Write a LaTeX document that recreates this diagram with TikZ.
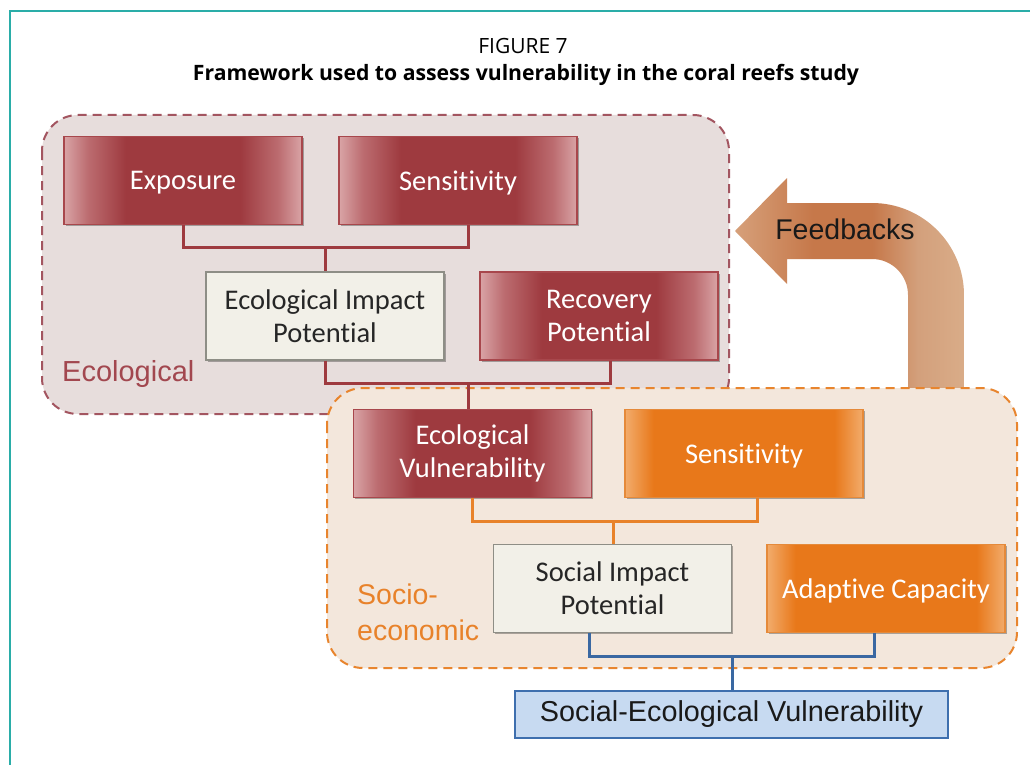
\documentclass[tikz,border=0pt]{standalone}
\usepackage{fontspec}
\setmainfont{Carlito}[Ligatures={NoCommon}]
\newfontfamily\arialf{Liberation Sans}
\newfontfamily\titlef{Open Sans}
\usetikzlibrary{shadows,calc}

\definecolor{teal}{HTML}{2AADA8}
\definecolor{ecoFill}{HTML}{E7DDDC}
\definecolor{ecoDash}{HTML}{A35560}
\definecolor{socFill}{HTML}{F3E7DC}
\definecolor{socDash}{HTML}{E8852E}
\definecolor{redD}{HTML}{9E3A3F}
\definecolor{redM}{HTML}{BC6C70}
\definecolor{redL}{HTML}{D9A4A6}
\definecolor{redB}{HTML}{A8474C}
\definecolor{orD}{HTML}{E8781A}
\definecolor{orL}{HTML}{F2AC6C}
\definecolor{orB}{HTML}{E58A3A}
\definecolor{lightFill}{HTML}{F2F0E8}
\definecolor{lightB}{HTML}{8E8E86}
\definecolor{blueFill}{HTML}{C7DAF1}
\definecolor{blueB}{HTML}{3E6FAE}
\definecolor{redLine}{HTML}{9E3A3F}
\definecolor{orLine}{HTML}{E8822A}
\definecolor{blueLine}{HTML}{3A68A2}
\definecolor{fbA}{HTML}{D6A07A}
\definecolor{fbB}{HTML}{C6784A}
\definecolor{fbC}{HTML}{D3A07C}
\definecolor{fbD}{HTML}{D9AC88}
\definecolor{ecoText}{HTML}{A2474F}
\definecolor{socText}{HTML}{E8822A}

\pgfdeclarehorizontalshading{redsh}{100bp}{color(0bp)=(redL); color(25bp)=(redL); color(30bp)=(redM); color(38bp)=(redD); color(62bp)=(redD); color(70bp)=(redM); color(75bp)=(redL); color(100bp)=(redL)}
\pgfdeclarehorizontalshading{orsh}{100bp}{color(0bp)=(orL); color(25bp)=(orL); color(31bp)=(orD); color(69bp)=(orD); color(75bp)=(orL); color(100bp)=(orL)}
\pgfdeclarehorizontalshading{fbsh}{100bp}{color(0bp)=(fbA); color(25bp)=(fbA); color(42bp)=(fbB); color(55bp)=(fbB); color(65bp)=(fbC); color(75bp)=(fbD); color(100bp)=(fbD)}

\tikzset{
  boxbase/.style={minimum width=238pt, minimum height=88pt, inner sep=0pt, align=center,
    font=\fontsize{28.5}{33}\selectfont,
    drop shadow={shadow xshift=1.5pt, shadow yshift=-1.5pt, opacity=0.3, fill=black}},
  redbox/.style={boxbase, shade, shading=redsh, draw=redB, line width=1.2pt, text=white},
  orbox/.style={boxbase, shade, shading=orsh, draw=orB, line width=1.2pt, text=white},
  lightbox/.style={boxbase, fill=lightFill, draw=lightB, line width=1.2pt, text=black!85},
  oneline/.style={text depth=0pt},
  region/.style={rounded corners=36pt, line width=2pt, dash pattern=on 9pt off 6pt},
  redline/.style={draw=redLine, line width=3pt},
  orline/.style={draw=orLine, line width=3pt},
  blueline/.style={draw=blueLine, line width=3pt},
}

\begin{document}
\begin{tikzpicture}[x=1pt, y=-1pt]
\useasboundingbox (0,0) rectangle (1030,765);
\fill[white] (0,0) rectangle (1030,765);

% frame
\draw[teal, line width=2.5pt] (10,765) -- (10,11) -- (1030,11);

% title
\node[font=\titlef\fontsize{21}{25}\selectfont] (t1) at (523,46) {FIGURE 7};
\node[font=\titlef\bfseries\fontsize{21.2}{25}\selectfont] (t2) at (526,75) {Framework used to assess vulnerability in the coral reefs study};

% ecological region
\path[region, fill=ecoFill, draw=ecoDash] (42,115) rectangle (729,414);

% feedback arrow
\path[shade, shading=fbsh] (964,392) -- (964,295) .. controls (964,244.2) and (922.8,203) .. (872,203)
  -- (787,203) -- (787,178) -- (735,231) -- (787,284) -- (787,259) -- (872,259)
  .. controls (891.9,259) and (908,275.1) .. (908,295) -- (908,392) -- cycle;
\node[font=\arialf\fontsize{28.5}{32}\selectfont, text=black!90] (fb) at (845,229) {Feedbacks};

% socio-economic region
\path[region, fill=socFill, draw=socDash] (327,388) rectangle (1017,668);

% boxes
\node[redbox, oneline] (expo) at (183,180.5) {Exposure};
\node[redbox, oneline] (sens1) at (458,180.5) {Sensitivity};
\node[lightbox] (eip) at (325,316) {Ecological Impact\\Potential};
\node[redbox] (rec) at (599,316) {Recovery\\Potential};
\node[redbox] (ev) at (472.5,453.5) {Ecological\\Vulnerability};
\node[orbox, oneline] (sens2) at (744,453.5) {Sensitivity};
\node[lightbox] (sip) at (612.5,588.5) {Social Impact\\Potential};
\node[orbox, oneline] (ac) at (886,588.5) {Adaptive Capacity};
\node[minimum width=433pt, minimum height=47pt, inner sep=0pt, fill=blueFill, draw=blueB, line width=2.5pt,
  font=\arialf\fontsize{28.8}{32}\selectfont, text=black!90] (sev) at (731.5,714.5) {Social-Ecological Vulnerability};

% connectors
\coordinate (j1) at (325,247);
\coordinate (s1) at ($(sens1.south)+(10,0)$);
\draw[redline] (expo.south) |- (j1) -| (s1);
\draw[redline] (j1) -- (eip.north);

\coordinate (j2) at (468,383);
\coordinate (r1) at ($(rec.south)+(11,0)$);
\draw[redline] (eip.south) |- (j2) -| (r1);
\draw[redline] (j2) -- (j2 |- ev.north);

\coordinate (j3) at (613,521);
\coordinate (s2) at ($(sens2.south)+(13,0)$);
\draw[orline] (ev.south) |- (j3) -| (s2);
\draw[orline] (j3) -- (j3 |- sip.north);

\coordinate (j4) at (732,656);
\coordinate (p1) at ($(sip.south)+(-23,0)$);
\coordinate (a1) at ($(ac.south)+(-12,0)$);
\draw[blueline] (p1) |- (j4) -| (a1);
\draw[blueline] (j4) -- (j4 |- sev.north);

% region labels
\node[anchor=base west, inner sep=0pt, font=\arialf\fontsize{29}{32}\selectfont, text=ecoText] (ecol) at (62,381) {Ecological};
\node[anchor=west, inner sep=0pt, align=left, font=\arialf\fontsize{28.5}{36}\selectfont, text=socText] (socl) at (357,612) {Socio-\\economic};
\end{tikzpicture}
\end{document}
